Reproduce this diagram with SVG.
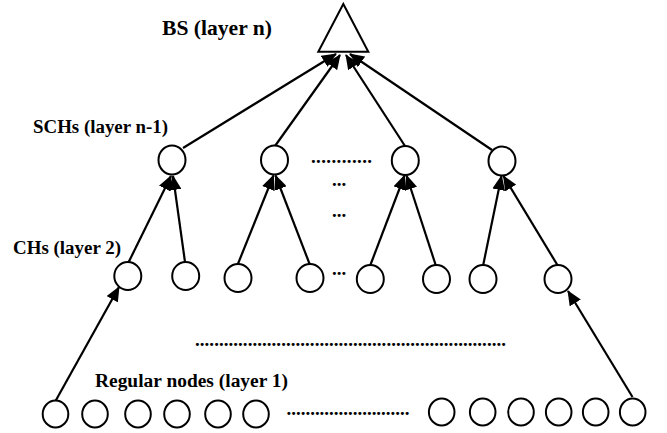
<svg xmlns="http://www.w3.org/2000/svg" width="667" height="433" viewBox="0 0 667 433">
<style>
.n{fill:#fff;stroke:#000;stroke-width:2}
.c{stroke:#000;stroke-width:2.2;fill:none}
.t{font-family:"Liberation Serif","Times New Roman",serif;font-weight:bold;fill:#000}
</style>
<defs>
<marker id="ah" markerUnits="userSpaceOnUse" markerWidth="15" markerHeight="13" refX="14" refY="6.5" orient="auto">
<path d="M0,0 L15,6.5 L0,13 z" fill="#000"/>
</marker>
</defs>
<rect width="667" height="433" fill="#fff"/>
<g id="bs">
<polygon class="n" points="343.3,4 318.3,51.7 368.3,51.7"/>
</g>
<g id="labels">
<text class="t" x="162" y="35" font-size="21" textLength="110" lengthAdjust="spacingAndGlyphs">BS (layer n)</text>
<text class="t" x="33" y="133" font-size="18.5" textLength="135" lengthAdjust="spacingAndGlyphs">SCHs (layer n-1)</text>
<text class="t" x="13" y="254" font-size="18.5" textLength="108" lengthAdjust="spacingAndGlyphs">CHs (layer 2)</text>
<text class="t" x="95" y="387" font-size="18.5" textLength="193" lengthAdjust="spacingAndGlyphs">Regular nodes  (layer 1)</text>
</g>
<g id="dots">
<text class="t" x="311" y="162.5" font-size="19" textLength="61" lengthAdjust="spacing">............</text>
<text class="t" x="332" y="185.5" font-size="19">...</text>
<text class="t" x="332" y="216.5" font-size="19">...</text>
<text class="t" x="332" y="274.5" font-size="19">...</text>
<text class="t" x="195" y="345.5" font-size="19" textLength="311" lengthAdjust="spacing">.................................................................</text>
<text class="t" x="286.5" y="414.5" font-size="19" textLength="123" lengthAdjust="spacing">..........................</text>
</g>
<g id="connectors">
<line class="c" x1="183" y1="148" x2="336" y2="54" marker-end="url(#ah)"/>
<line class="c" x1="275" y1="146" x2="340" y2="55" marker-end="url(#ah)"/>
<line class="c" x1="405" y1="146" x2="346" y2="55" marker-end="url(#ah)"/>
<line class="c" x1="492" y1="150" x2="350" y2="54" marker-end="url(#ah)"/>
<line class="c" x1="128.7" y1="262" x2="171" y2="176" marker-end="url(#ah)"/>
<line class="c" x1="185" y1="262" x2="173" y2="176" marker-end="url(#ah)"/>
<line class="c" x1="237.5" y1="265" x2="273.5" y2="175.5" marker-end="url(#ah)"/>
<line class="c" x1="310" y1="265" x2="275.5" y2="175.5" marker-end="url(#ah)"/>
<line class="c" x1="370" y1="266" x2="404.5" y2="175.5" marker-end="url(#ah)"/>
<line class="c" x1="436" y1="266" x2="406.5" y2="175.5" marker-end="url(#ah)"/>
<line class="c" x1="483" y1="266" x2="501.5" y2="176" marker-end="url(#ah)"/>
<line class="c" x1="558" y1="266" x2="503.5" y2="176" marker-end="url(#ah)"/>
<line class="c" x1="55.5" y1="401" x2="119" y2="287" marker-end="url(#ah)"/>
<line class="c" x1="632.5" y1="397" x2="568" y2="291" marker-end="url(#ah)"/>
</g>
<g id="sch">
<ellipse class="n" cx="172" cy="160" rx="13.5" ry="14.5"/>
<ellipse class="n" cx="274.5" cy="160" rx="13.5" ry="14.5"/>
<ellipse class="n" cx="405.3" cy="160.5" rx="13.5" ry="14.5"/>
<ellipse class="n" cx="502" cy="161" rx="13.5" ry="14.5"/>
</g>
<g id="ch">
<ellipse class="n" cx="127.8" cy="276" rx="13.5" ry="14"/>
<ellipse class="n" cx="185.7" cy="276" rx="13.5" ry="14"/>
<ellipse class="n" cx="238" cy="278" rx="13.5" ry="14"/>
<ellipse class="n" cx="310" cy="278" rx="13.5" ry="14"/>
<ellipse class="n" cx="370.3" cy="279" rx="13.5" ry="14"/>
<ellipse class="n" cx="436.5" cy="279" rx="13.5" ry="14"/>
<ellipse class="n" cx="483" cy="279" rx="13.5" ry="14"/>
<ellipse class="n" cx="558" cy="279" rx="13.5" ry="14"/>
</g>
<g id="regular">
<ellipse class="n" cx="55.5" cy="414" rx="12.8" ry="13.5"/>
<ellipse class="n" cx="95" cy="414" rx="12.8" ry="13.5"/>
<ellipse class="n" cx="138" cy="414" rx="12.8" ry="13.5"/>
<ellipse class="n" cx="177" cy="414" rx="12.8" ry="13.5"/>
<ellipse class="n" cx="218" cy="414" rx="12.8" ry="13.5"/>
<ellipse class="n" cx="256" cy="414" rx="12.8" ry="13.5"/>
<ellipse class="n" cx="441.7" cy="412" rx="12.8" ry="13.5"/>
<ellipse class="n" cx="482.7" cy="412" rx="12.8" ry="13.5"/>
<ellipse class="n" cx="521" cy="412" rx="12.8" ry="13.5"/>
<ellipse class="n" cx="558.7" cy="412" rx="12.8" ry="13.5"/>
<ellipse class="n" cx="595.7" cy="412" rx="12.8" ry="13.5"/>
<ellipse class="n" cx="632.7" cy="412" rx="12.8" ry="13.5"/>
</g>
</svg>
